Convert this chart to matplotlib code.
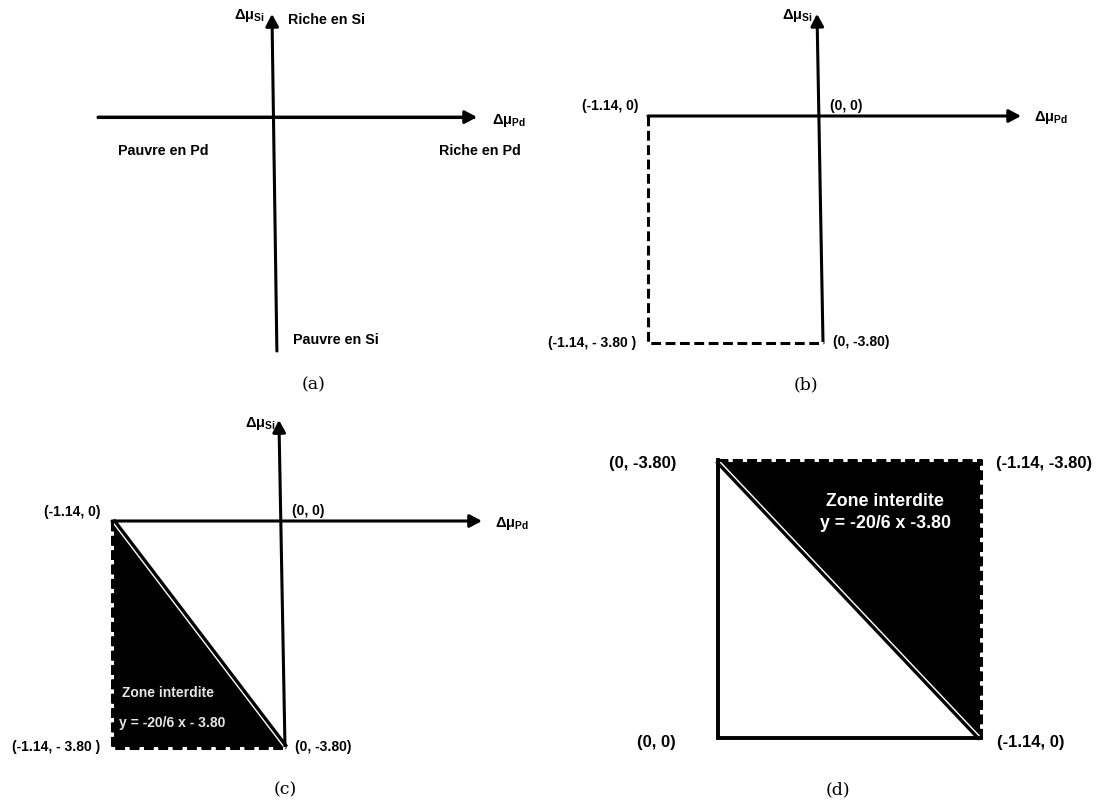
import matplotlib
matplotlib.use('Agg')
import matplotlib.pyplot as plt
import matplotlib.transforms as mtransforms

# ---------------- data ----------------
x_pd = [-1.14, 0.0]          # Δμ_Pd bounds
y_si = [-3.80, 0.0]          # Δμ_Si bounds
slope = -20 / 6              # y = -20/6 x - 3.80
intercept = -3.80
labels_a = ["Riche en Si", "Pauvre en Si", "Pauvre en Pd", "Riche en Pd"]
labels_bc = ["(-1.14, 0)", "(0, 0)", "(-1.14, - 3.80 )", "(0, -3.80)"]
labels_d = ["(0, -3.80)", "(-1.14, -3.80)", "(0, 0)", "(-1.14, 0)"]
zone_label = "Zone interdite"
eq_c = "y = -20/6 x - 3.80"
eq_d = "y = -20/6 x -3.80"
captions = ["(a)", "(b)", "(c)", "(d)"]
lab_pd = r"$\mathbf{Δμ}_{\mathbf{Pd}}$"
lab_si = r"$\mathbf{Δμ}_{\mathbf{Si}}$"

# ---------------- style ----------------
W, H = 1105, 805
plt.rcParams['font.family'] = ['Liberation Sans', 'DejaVu Sans']
plt.rcParams['font.weight'] = 'bold'
plt.rcParams['mathtext.fontset'] = 'custom'
plt.rcParams['mathtext.rm'] = 'Liberation Sans:bold'
plt.rcParams['mathtext.bf'] = 'Liberation Sans:bold'
plt.rcParams['mathtext.it'] = 'Liberation Sans:bold'

fig = plt.figure(figsize=(W / 100, H / 100), dpi=100)
fig.patch.set_facecolor('white')

AX_LW = 2.2
ARW = dict(arrowstyle='-|>,head_length=0.45,head_width=0.24', lw=AX_LW, color='black',
           mutation_scale=16, shrinkA=0, shrinkB=0)


def make_ax(left, right, top, bottom):
    ax = fig.add_axes([left / W, 1 - bottom / H, (right - left) / W, (bottom - top) / H])
    ax.set_axis_off()
    return ax


def lab(ax, s, xy, dx, dy, ha, size, coords='data', color='black'):
    ax.annotate(s, xy=xy, xycoords=coords, xytext=(dx, dy), textcoords='offset pixels',
                ha=ha, va='center', fontsize=size, fontweight='bold', color=color,
                annotation_clip=False)


def arrow(ax, p0, p1, coords='data'):
    ax.annotate('', xy=p1, xytext=p0, xycoords=coords, textcoords=coords,
                arrowprops=ARW, annotation_clip=False)


def hyp_y(x):
    return slope * x + intercept


def forbidden(ax, tri, white_side):
    # filled forbidden zone, white gap line, black boundary line
    ax.fill([p[0] for p in tri], [p[1] for p in tri], color='black', lw=0, zorder=1,
            clip_on=False)
    hx = x_pd
    hy = [hyp_y(v) for v in x_pd]
    ax.plot(hx, hy, color='white', lw=1.3, zorder=2, clip_on=False, solid_capstyle='butt')
    off = mtransforms.offset_copy(ax.transData, fig=fig, x=white_side[0], y=white_side[1],
                                  units='dots')
    ax.plot(hx, hy, color='black', lw=2.4, zorder=3, clip_on=False, transform=off,
            solid_capstyle='butt')


def dashed(ax, xs, ys):
    ax.plot(xs, ys, color='black', lw=2.2, linestyle='--', dashes=(3.2, 1.5),
            gapcolor='white', zorder=4, clip_on=False, dash_capstyle='butt')


# ---------------- panel (a) ----------------
axa = make_ax(98, 477, 14, 351)
axa.set_xlim(0, 1)
axa.set_ylim(0, 1)
h_y = 0.694
v_top = (0.459, 1.0)
v_bot = (0.472, 0.0)
axa.plot([0, 0.99], [h_y, h_y], color='black', lw=AX_LW, clip_on=False)
arrow(axa, (0.0, h_y), (1.0, h_y))
arrow(axa, v_bot, v_top)
lab(axa, lab_si, v_top, -7, -2, 'right', 10.5)
lab(axa, labels_a[0], v_top, 16, -6, 'left', 10.3)
lab(axa, labels_a[1], v_bot, 16, 11, 'left', 10.3)
lab(axa, labels_a[2], (0.0, h_y), 20, -34, 'left', 10.3)
lab(axa, labels_a[3], (1.0, h_y), 44, -34, 'right', 10.3)
lab(axa, lab_pd, (1.0, h_y), 15, -3, 'left', 10.5)

# ---------------- panel (b) ----------------
axb = make_ax(648, 823, 116, 343)
axb.set_xlim(x_pd[0], x_pd[1])
axb.set_ylim(y_si[0], y_si[1])
h_end_b = 1.29
v_top_b = (-0.039, 1.71)
dashed(axb, [x_pd[0], x_pd[0], x_pd[1]], [y_si[1], y_si[0], y_si[0]])
arrow(axb, (x_pd[0], 0.0), (h_end_b, 0.0))
arrow(axb, (x_pd[1], y_si[0]), v_top_b)
lab(axb, labels_bc[0], (x_pd[0], y_si[1]), -10, 10, 'right', 10)
lab(axb, labels_bc[1], (x_pd[1], y_si[1]), 7, 10, 'left', 10)
lab(axb, labels_bc[2], (x_pd[0], y_si[0]), -12, 0, 'right', 10)
lab(axb, labels_bc[3], (x_pd[1], y_si[0]), 10, 1, 'left', 10)
lab(axb, lab_si, v_top_b, -4, -2, 'right', 10.5)
lab(axb, lab_pd, (h_end_b, 0.0), 13, -2, 'left', 10.5)

# ---------------- panel (c) ----------------
axc = make_ax(112, 285, 521, 748)
axc.set_xlim(x_pd[0], x_pd[1])
axc.set_ylim(y_si[0], y_si[1])
h_end_c = 1.298
v_top_c = (-0.04, 1.69)
tri_c = [(x_pd[0], hyp_y(x_pd[0])), (x_pd[0], y_si[0]), (x_pd[1], hyp_y(x_pd[1]))]
forbidden(axc, tri_c, (1.7, 1.3))
dashed(axc, [x_pd[0], x_pd[0], x_pd[1]], [y_si[1], y_si[0], y_si[0]])
arrow(axc, (x_pd[0], 0.0), (h_end_c, 0.0))
arrow(axc, (x_pd[1], y_si[0]), v_top_c)
lab(axc, labels_bc[0], (x_pd[0], y_si[1]), -12, 9, 'right', 10)
lab(axc, labels_bc[1], (x_pd[1], y_si[1]), 7, 10, 'left', 10)
lab(axc, labels_bc[2], (x_pd[0], y_si[0]), -12, 1, 'right', 10)
lab(axc, labels_bc[3], (x_pd[1], y_si[0]), 10, 1, 'left', 10)
lab(axc, lab_si, v_top_c, -3, -3, 'right', 10.5)
lab(axc, lab_pd, (h_end_c, 0.0), 13, -2, 'left', 10.5)
axc.text(0.06, 0.242, zone_label, transform=axc.transAxes, color='#e6e6e6',
         fontsize=10, fontweight='bold', ha='left', va='center', zorder=5)
axc.text(0.042, 0.11, eq_c, transform=axc.transAxes, color='#e6e6e6',
         fontsize=10, fontweight='bold', ha='left', va='center', zorder=5)

# ---------------- panel (d) ----------------
axd = make_ax(718, 981, 460, 738)
axd.set_xlim(x_pd[1], x_pd[0])
axd.set_ylim(y_si[1], y_si[0])
tri_d = [(x_pd[1], hyp_y(x_pd[1])), (x_pd[0], y_si[0]), (x_pd[0], hyp_y(x_pd[0]))]
forbidden(axd, tri_d, (-1.6, -1.5))
dashed(axd, [x_pd[1], x_pd[0], x_pd[0]], [y_si[0], y_si[0], y_si[1]])
axd.plot([x_pd[1], x_pd[1], x_pd[0]], [y_si[0], y_si[1], y_si[1]], color='black',
         lw=2.8, zorder=4, clip_on=False, solid_joinstyle='miter')
lab(axd, labels_d[0], (x_pd[1], y_si[0]), -42, -3, 'right', 12)
lab(axd, labels_d[1], (x_pd[0], y_si[0]), 15, -3, 'left', 12)
lab(axd, labels_d[2], (x_pd[1], y_si[1]), -42, -4, 'right', 12)
lab(axd, labels_d[3], (x_pd[0], y_si[1]), 16, -4, 'left', 12)
axd.text(0.635, 0.849, zone_label, transform=axd.transAxes, color='white',
         fontsize=12.8, fontweight='bold', ha='center', va='center', zorder=5)
axd.text(0.635, 0.773, eq_d, transform=axd.transAxes, color='white',
         fontsize=12.8, fontweight='bold', ha='center', va='center', zorder=5)

# ---------------- captions ----------------
cap_pos = [(314, 385), (806, 385), (285, 790), (838, 790)]
for c, (px, py) in zip(captions, cap_pos):
    fig.text(px / W, 1 - py / H, c, family='DejaVu Serif', fontweight='normal',
             fontsize=12.5, ha='center', va='center')

fig.savefig('out.png', dpi=100, facecolor='white')
